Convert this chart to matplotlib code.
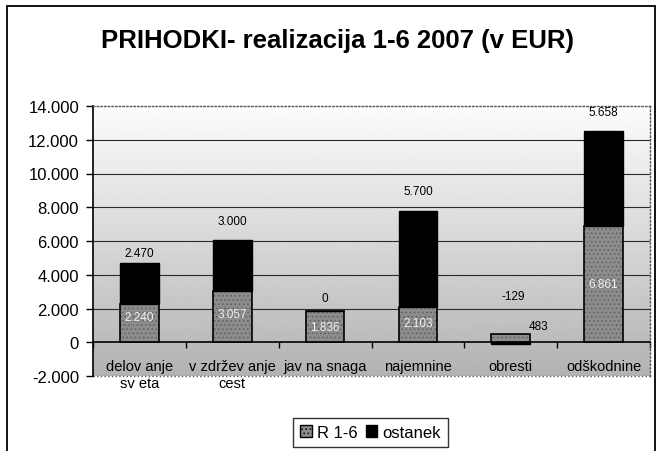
import matplotlib
matplotlib.use("Agg")
import matplotlib.pyplot as plt
import numpy as np
from matplotlib.patches import Rectangle, Patch
from matplotlib.ticker import FuncFormatter

plt.rcParams['font.family'] = ['Liberation Sans', 'DejaVu Sans']
plt.rcParams['hatch.linewidth'] = 0.6

# ---- data ----
title = "PRIHODKI- realizacija 1-6 2007 (v EUR)"
categories = ["delov anje\nsv eta", "v zdržev anje\ncest", "jav na snaga",
              "najemnine", "obresti", "odškodnine"]
r16 = [2240, 3057, 1836, 2103, 483, 6861]
ostanek = [2470, 3000, 0, 5700, -129, 5658]
r16_labels = ["2.240", "3.057", "1.836", "2.103", "483", "6.861"]
ost_labels = ["2.470", "3.000", "0", "5.700", "-129", "5.658"]
series_names = ["R 1-6", "ostanek"]
y_ticks = list(range(-2000, 14001, 2000))

# label nudges (pixels) – style only
ost_nudge = [(0, 10), (0, 19), (0, 13), (0, 20), (2, 38), (0, 19)]
r_nudge = [(0, 6), (0, 2), (0, 0), (0, 2), (28, 12), (0, 0)]
r_label_colors = ['#f2f2f2', '#f2f2f2', '#f2f2f2', '#f2f2f2', 'black', '#f2f2f2']

R_FACE = '#8c8c8c'
R_HATCH = '#5e5e5e'

W, H = 657, 452
fig = plt.figure(figsize=(W / 100, H / 100), dpi=100)
fig.patch.set_facecolor('white')

# outer chart frame
fig.patches.append(Rectangle((7 / W, -0.05), (655 - 7) / W, 1 - 7 / H + 0.05,
                             transform=fig.transFigure, fill=False,
                             edgecolor='black', lw=1.3))

ax = fig.add_axes([93 / W, 1 - 377 / H, (650 - 93) / W, (377 - 107) / H])
ax.set_xlim(-0.5, len(categories) - 0.5)
ax.set_ylim(y_ticks[0], y_ticks[-1])

# background gradient
grad = np.linspace(0.99, 0.70, 256)[:, None]
ax.imshow(grad, extent=[0, 1, 0, 1], transform=ax.transAxes, cmap='gray',
          vmin=0, vmax=1, aspect='auto', zorder=0, interpolation='bilinear')

# gridlines
for y in y_ticks[1:-1]:
    if y != 0:
        ax.axhline(y, color='#2a2a2a', lw=0.8, zorder=1)
ax.axhline(y_ticks[0], color='#555555', lw=1.0, ls=':', zorder=1, clip_on=False)

x = np.arange(len(categories))
width = 0.415
ost_bottom = [r if o >= 0 else 0 for r, o in zip(r16, ostanek)]
ax.bar(x, r16, width, color=R_FACE, edgecolor=R_HATCH, hatch='....',
       lw=0, zorder=3)
ax.bar(x, r16, width, fill=False, edgecolor='black', lw=1.2, zorder=3.5)
ax.bar(x, ostanek, width, bottom=ost_bottom, color='black', edgecolor='black',
       lw=1.0, zorder=3)

# labels
for i in range(len(categories)):
    top = max(r16[i], 0) + max(ostanek[i], 0)
    ax.annotate(ost_labels[i], xy=(x[i], top), xytext=ost_nudge[i],
                textcoords='offset pixels', ha='center', va='center',
                fontsize=8.5, color='black', zorder=5)
    ax.annotate(r16_labels[i], xy=(x[i], r16[i] / 2), xytext=r_nudge[i],
                textcoords='offset pixels', ha='center', va='center',
                fontsize=8.5, color=r_label_colors[i], zorder=5)

# axes styling
ax.spines['bottom'].set_position(('data', 0))
ax.spines['bottom'].set_linewidth(1.2)
ax.spines['left'].set_linewidth(1.2)
for s in ['top', 'right']:
    ax.spines[s].set_linestyle(':')
    ax.spines[s].set_color('#555555')
    ax.spines[s].set_linewidth(1.0)

ax.set_yticks(y_ticks)
ax.yaxis.set_major_formatter(FuncFormatter(lambda v, p: f"{v:,.0f}".replace(',', '.')))
ax.tick_params(axis='y', length=5, width=1, pad=5, labelsize=12, direction='out')

ax.set_xticks(x)
ax.set_xticklabels(categories, fontsize=10.5, linespacing=1.25)
ax.set_xticks(np.arange(-0.5, len(categories), 1), minor=True)
ax.tick_params(axis='x', which='major', length=0, pad=12)
ax.tick_params(axis='x', which='minor', length=4, width=1, direction='out')

# title
fig.text(337.5 / W, 1 - 41 / H, title, ha='center', va='center',
         fontsize=18.5, fontweight='bold')

# legend
handles = [Patch(facecolor=R_FACE, edgecolor='black', hatch='....'),
           Patch(facecolor='black', edgecolor='black')]
leg = fig.legend(handles, series_names, loc='center',
                 bbox_to_anchor=(370.5 / W, 1 - 433.5 / H), ncol=2,
                 frameon=True, fancybox=False, edgecolor='black', fontsize=12,
                 handlelength=0.7, handleheight=0.7, handletextpad=0.3,
                 columnspacing=0.5, borderpad=0.4)
leg.get_frame().set_linewidth(1.0)

fig.savefig("out.png", dpi=100)
